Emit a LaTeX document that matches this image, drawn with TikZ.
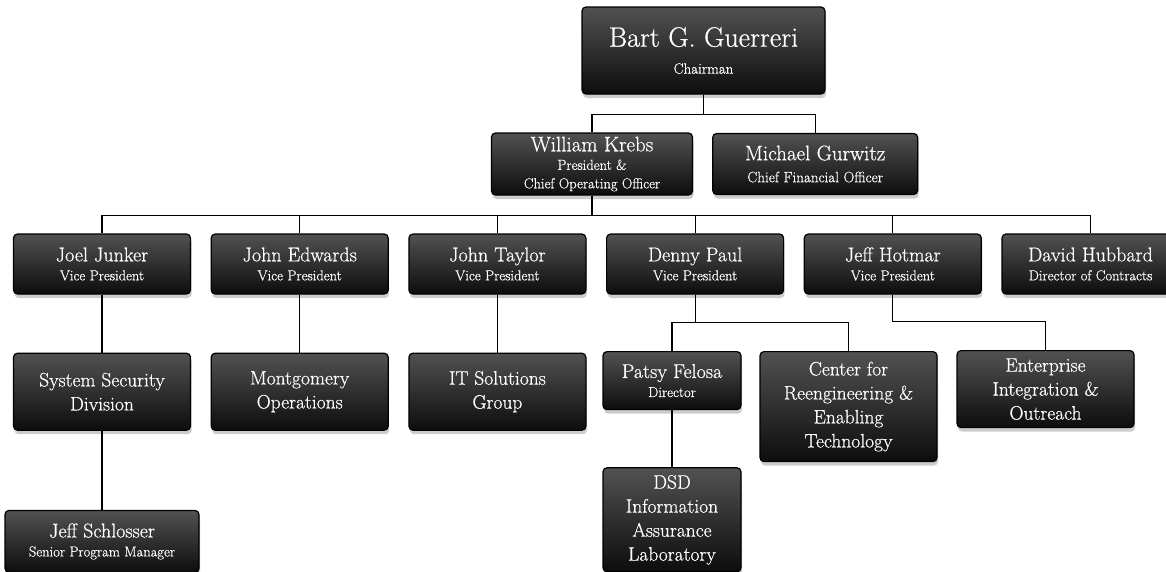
\documentclass[tikz,border=0pt]{standalone}
\usepackage{fontspec}
\setmainfont{Latin Modern Roman}[FakeBold=0.6]
\usetikzlibrary{positioning}
\usetikzlibrary{shadows}
\tikzset{orgbox/.style={rectangle,rounded corners=4pt,draw=black,line width=1.2pt,
top color=black!68,bottom color=black!95,text=white,align=center,
inner sep=2pt,minimum width=177pt,minimum height=60pt,
drop shadow={shadow xshift=1pt,shadow yshift=-4pt,fill=black,opacity=0.2}}}
\tikzset{orgperson/.style={orgbox,font=\fontsize{14.5}{19}\selectfont}}
\tikzset{orgunit/.style={orgbox,minimum height=77pt,font=\fontsize{19.5}{24}\selectfont}}
\tikzset{orgline/.style={line width=1.2pt,draw=black}}
\newcommand{\orgname}[1]{{\fontsize{20}{22}\selectfont #1}}

\begin{document}
\begin{tikzpicture}[x=1pt,y=-1pt]
    \useasboundingbox (0,0) rectangle (1166,571);

    \node[orgbox,minimum width=243pt,minimum height=87pt,font=\fontsize{15}{27}\selectfont] (bart) at (703.5,50.5) {{\fontsize{28}{30}\selectfont Bart G. Guerreri}\\Chairman};

    \node[orgbox,minimum width=201pt,minimum height=62pt,font=\fontsize{14.5}{18.5}\selectfont] (krebs) at (592,164) {{\fontsize{21}{22}\selectfont William Krebs}\\President \&\\Chief Operating Officer};
    \node[orgbox,minimum width=205pt,minimum height=61pt,font=\fontsize{15}{22}\selectfont] (gurwitz) [right=19pt of krebs] {{\fontsize{21}{22}\selectfont Michael Gurwitz}\\Chief Financial Officer};

    \node[orgperson] (joel) at (102,264) {\orgname{Joel Junker}\\Vice President};
    \node[orgperson] (edwards) [right=19.5pt of joel] {\orgname{John Edwards}\\Vice President};
    \node[orgperson] (taylor) [right=19.5pt of edwards] {\orgname{John Taylor}\\Vice President};
    \node[orgperson] (paul) [right=19.5pt of taylor] {\orgname{Denny Paul}\\Vice President};
    \node[orgperson] (hotmar) [right=19.5pt of paul] {\orgname{Jeff Hotmar}\\Vice President};
    \node[orgperson] (hubbard) [right=19.5pt of hotmar] {\orgname{David Hubbard}\\Director of Contracts};

    \node[orgunit] (ssd) [below=58pt of joel] {System Security\\Division};
    \node[orgunit] (montgomery) [below=58pt of edwards] {Montgomery\\Operations};
    \node[orgunit] (itsol) [below=58pt of taylor] {IT Solutions\\Group};

    \node[orgperson,minimum width=138pt,minimum height=58pt,anchor=north] (patsy) at (672,351) {\orgname{Patsy Felosa}\\Director};
    \node[orgunit,minimum height=110pt,anchor=north] (cret) at (848.5,351) {Center for\\Reengineering \&\\Enabling\\Technology};
    \node[orgunit,anchor=north] (enterprise) at (1045.5,350) {Enterprise\\Integration \&\\Outreach};

    \node[orgperson,minimum width=194pt,minimum height=62pt] (schlosser) [below=79pt of ssd] {\orgname{Jeff Schlosser}\\Senior Program Manager};
    \node[orgunit,minimum width=138pt,minimum height=104pt] (dsd) [below=57pt of patsy] {DSD\\Information\\Assurance\\Laboratory};

    % connectors
    \draw[orgline] (bart.south) -- ++(0,20) -| (krebs.north);
    \draw[orgline] (bart.south) -- ++(0,20) -| (gurwitz.north);
    \foreach \vp in {joel,edwards,taylor,paul,hotmar,hubbard}
        \draw[orgline] (krebs.south) -- ++(0,19.5) -| (\vp.north);
    \foreach \boss/\unit in {joel/ssd,edwards/montgomery,taylor/itsol,ssd/schlosser,patsy/dsd}
        \draw[orgline] (\boss.south) -- (\unit.north);
    \draw[orgline] (paul.south) -- ++(0,28) -| (patsy.north);
    \draw[orgline] (paul.south) -- ++(0,28) -| (cret.north);
    \draw[orgline] (hotmar.south) -- ++(0,27) -| (enterprise.north);

\end{tikzpicture}
\end{document}
